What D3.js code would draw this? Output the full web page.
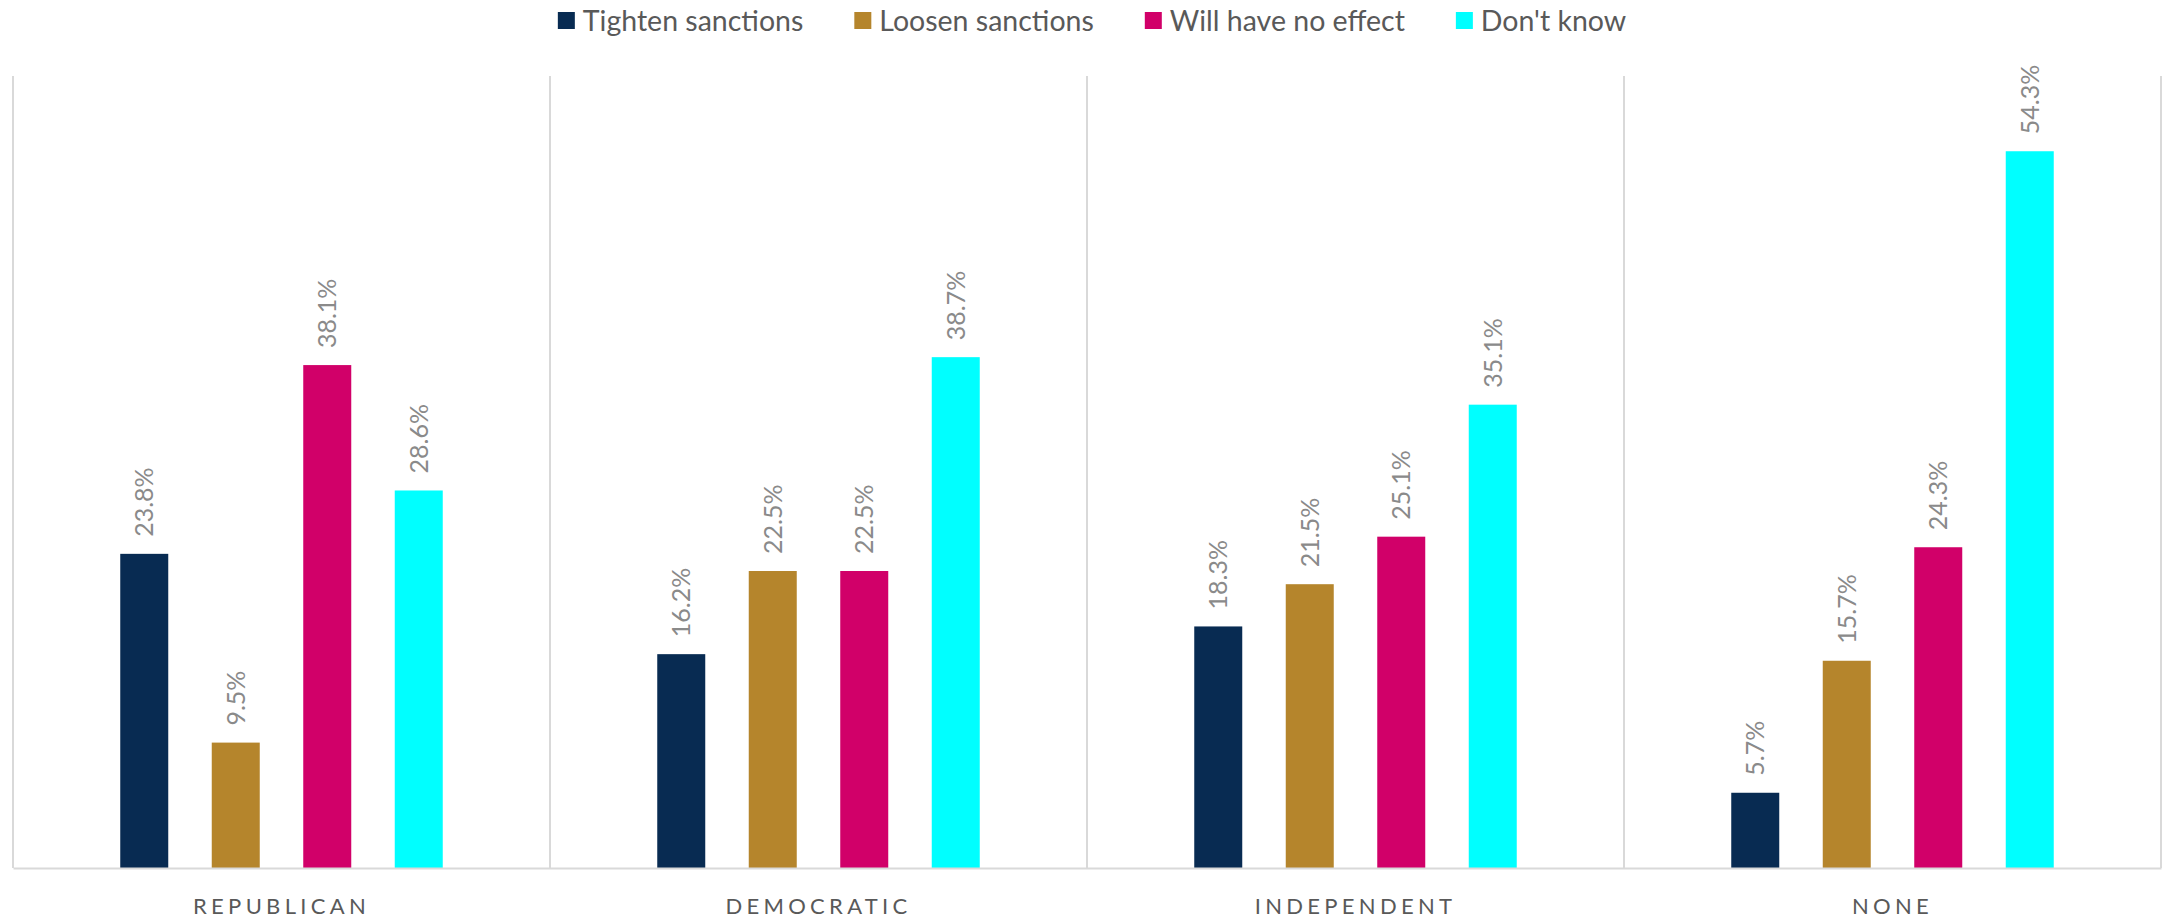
<!DOCTYPE html>
<html>
<head>
<meta charset="utf-8">
<script src="https://cdn.jsdelivr.net/npm/d3@7"></script>
<style>
  body { margin: 0; background: #fff; }
  text { font-family: Lato, "Open Sans", sans-serif; }
</style>
</head>
<body>
<div class="chart"></div>
<script>
// Data
var categories = ["REPUBLICAN", "DEMOCRATIC", "INDEPENDENT", "NONE"];
var seriesNames = ["Tighten sanctions", "Loosen sanctions", "Will have no effect", "Don't know"];
var tighten = [23.8, 16.2, 18.3, 5.7];
var loosen = [9.5, 22.5, 21.5, 15.7];
var noEffect = [38.1, 22.5, 25.1, 24.3];
var dontKnow = [28.6, 38.7, 35.1, 54.3];
var colors = ["#082b52", "#b5852c", "#d10069", "#00ffff"];

var seriesValues = [tighten, loosen, noEffect, dontKnow];

// SVG area
var svgWidth = 2168;
var svgHeight = 919;
var margin = {top: 76, right: 7, bottom: 51, left: 13};
var width = svgWidth - margin.left - margin.right;
var height = svgHeight - margin.top - margin.bottom;

var svg = d3.select(".chart")
  .append("svg")
  .attr("width", svgWidth)
  .attr("height", svgHeight);

var chartGroup = svg.append("g")
  .attr("transform", "translate(" + margin.left + "," + margin.top + ")");

// Scales
var x0 = d3.scaleBand()
  .domain(categories)
  .range([0, width])
  .padding(0);

var barW = 48, gap = 43.5;
var clusterW = 4 * barW + 3 * gap;
var x1 = d3.scaleBand()
  .domain(seriesNames)
  .range([-clusterW / 2, clusterW / 2])
  .paddingInner(gap / (barW + gap))
  .paddingOuter(0);

var y = d3.scaleLinear()
  .domain([0, 60])
  .range([height, 0]);

// Category dividers
chartGroup.selectAll("line.div")
  .data(d3.range(categories.length + 1))
  .enter()
  .append("line")
  .attr("class", "div")
  .attr("x1", d => d * x0.step())
  .attr("x2", d => d * x0.step())
  .attr("y1", 0)
  .attr("y2", height)
  .attr("stroke", "#d9d9d9")
  .attr("stroke-width", 2);

// Bars
var rows = [];
categories.forEach(function(c, i) {
  seriesNames.forEach(function(s, j) {
    rows.push({cat: c, series: s, value: seriesValues[j][i], color: colors[j]});
  });
});

var groups = chartGroup.selectAll("g.bar")
  .data(rows)
  .enter()
  .append("g")
  .attr("class", "bar")
  .attr("transform", d => "translate(" + (x0(d.cat) + x0.bandwidth() / 2 + x1(d.series)) + ",0)");

groups.append("rect")
  .attr("x", 0)
  .attr("y", d => y(d.value))
  .attr("width", x1.bandwidth())
  .attr("height", d => height - y(d.value))
  .attr("fill", d => d.color);

groups.append("text")
  .attr("transform", d => "translate(" + (x1.bandwidth() / 2) + "," + (y(d.value) - 17) + ") rotate(-90)")
  .attr("dy", "0.35em")
  .attr("fill", "#8a8a8a")
  .style("font-size", "25px")
  .text(d => d.value.toFixed(1) + "%");

// Baseline axis
var bottomAxis = d3.axisBottom(x0).tickSize(0).tickPadding(30);
var xAxis = chartGroup.append("g")
  .attr("transform", "translate(0," + height + ")")
  .call(bottomAxis);
xAxis.select(".domain").attr("stroke", "#d9d9d9").attr("stroke-width", 2);
xAxis.selectAll(".tick text")
  .attr("fill", "#595959")
  .style("font-size", "22px")
  .style("letter-spacing", "4.3px")
  .style("font-family", "Lato, 'Open Sans', sans-serif");

// Legend
var legend = svg.append("g");
var items = legend.selectAll("g")
  .data(seriesNames)
  .enter()
  .append("g");
items.append("rect")
  .attr("y", 12)
  .attr("width", 17)
  .attr("height", 17)
  .attr("fill", (d, i) => colors[i]);
items.append("text")
  .attr("x", 25)
  .attr("y", 21)
  .attr("dy", "0.35em")
  .attr("fill", "#595959")
  .style("font-size", "28.5px")
  .text(d => d);

var xpos = 0;
items.each(function() {
  var g = d3.select(this);
  g.attr("transform", "translate(" + xpos + ",0)");
  xpos += 25 + g.select("text").node().getComputedTextLength() + 51;
});
var legendW = xpos - 51;
legend.attr("transform", "translate(" + (1092 - legendW / 2) + ",0)");
</script>
</body>
</html>
